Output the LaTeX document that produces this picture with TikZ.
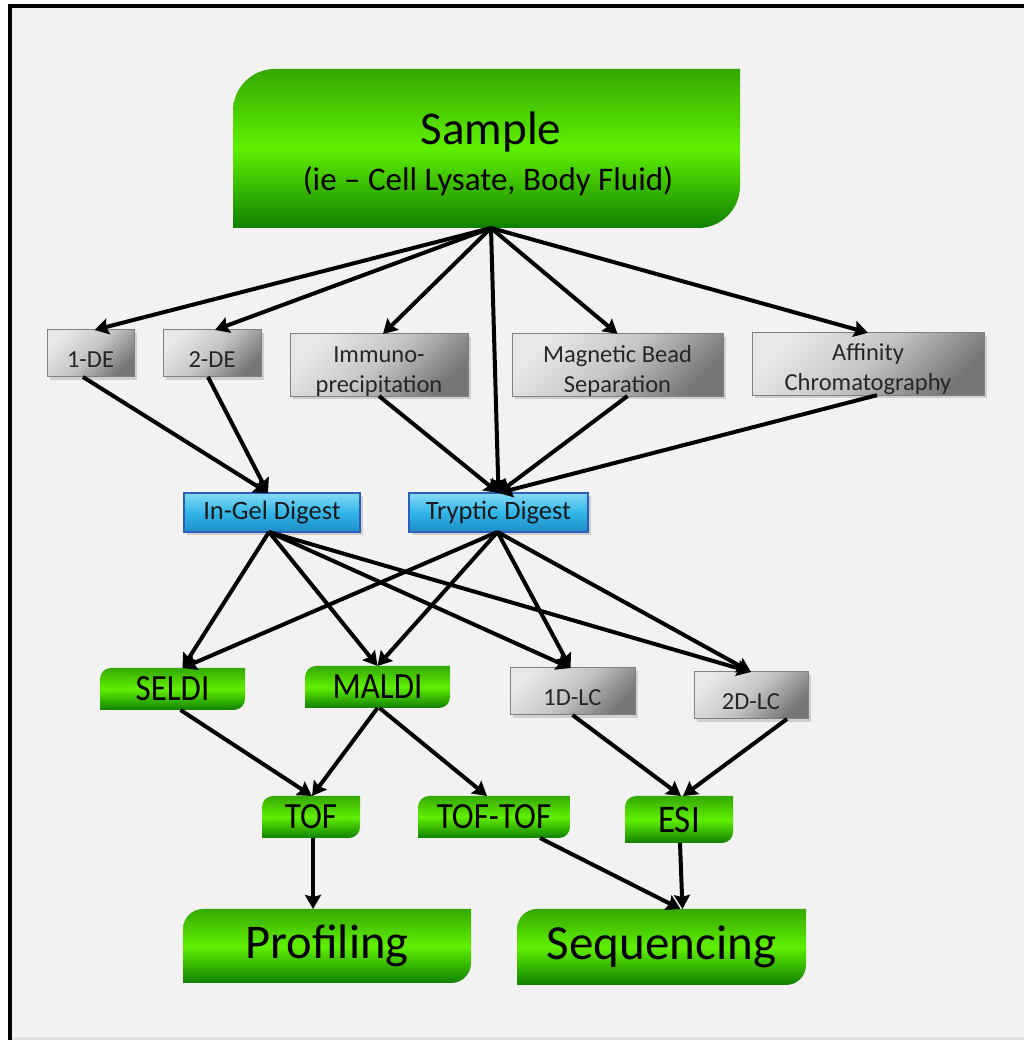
\documentclass[tikz,border=0pt]{standalone}
\usepackage{fontspec}
\setmainfont{Carlito}
\usetikzlibrary{arrows.meta,shadows,calc}
\pgfdeclarelayer{canvas}
\pgfdeclarelayer{bg}
\pgfsetlayers{canvas,bg,main}
\definecolor{gtop}{RGB}{52,168,0}
\definecolor{gmid}{RGB}{96,240,0}
\definecolor{gbot}{RGB}{16,128,0}
\definecolor{graylight}{RGB}{232,232,232}
\definecolor{graymid}{RGB}{196,196,196}
\definecolor{graydark}{RGB}{118,118,118}
\definecolor{grayborder}{RGB}{128,128,128}
\definecolor{btop}{RGB}{135,218,246}
\definecolor{bmid}{RGB}{50,182,232}
\definecolor{bbot}{RGB}{30,140,200}
\definecolor{bborder}{RGB}{45,95,185}
\definecolor{canvasgray}{RGB}{242,242,242}
\newcommand\fs[2]{\fontsize{#1}{#2}\selectfont}
\newcommand\sk{\rule{0pt}{1.15em}}
\newcommand\tall[1]{\scalebox{1}[1.12]{#1}}
\newcommand\boxnode[7]{\node[#2, minimum width={(#5)-(#3)}, minimum height={(#6)-(#4)}] (#1) at ({((#3)+(#5))/2},{1040-((#4)+(#6))/2}) {#7};}
\newcommand\gbg[2]{\shade[gshade] (#1.south west) -- ([yshift=-#2pt]#1.north west) arc[start angle=180,end angle=90,radius=#2pt] -- (#1.north east) -- ([yshift=#2pt]#1.south east) arc[start angle=0,end angle=-90,radius=#2pt] -- cycle;}
\tikzset{
  gshade/.style={top color=gtop, bottom color=gbot, middle color=gmid},
  gnode/.style={inner sep=0pt, outer sep=0pt, text=black, align=center},
  graynode/.style={inner sep=0pt, outer sep=0pt, align=center, text=black!85,
    left color=graylight, right color=graydark, middle color=graymid, shading angle=45,
    draw=grayborder, line width=1pt, font=\fs{24.5}{30},
    drop shadow={shadow xshift=3pt, shadow yshift=-3pt, opacity=0.3}},
  bluenode/.style={inner sep=0pt, outer sep=0pt, align=center, text=black!90,
    top color=btop, bottom color=bbot, middle color=bmid,
    draw=bborder, line width=1.5pt, font=\fs{26.5}{30},
    drop shadow={shadow xshift=3pt, shadow yshift=-3pt, opacity=0.3}},
  arr/.style={line width=4pt, -{Stealth[length=14pt,width=16pt,inset=2pt]}},
}
\begin{document}
\begin{tikzpicture}[x=1pt,y=1pt]
\useasboundingbox (0,0) rectangle (1024,1040);
\begin{pgfonlayer}{canvas}
  \fill[white] (0,0) rectangle (1024,1040);
  \fill[canvasgray] (12,0) rectangle (1024,1032);
  \fill[black!12] (12,0) rectangle (1024,3);
  \fill[black] (8,1032) rectangle (1024,1036);
  \fill[black] (8,0) rectangle (12,1036);
\end{pgfonlayer}

% green boxes
\boxnode{sample}{gnode}{233}{69}{740}{228}{}
\node[font=\fs{47}{52}, anchor=base] (sampletitle) at (491,1040-145) {Sample};
\node[font=\fs{33}{36}, anchor=base] (samplesub) at (488,1040-191) {(ie – Cell Lysate, Body Fluid)};
\boxnode{seldi}{gnode,font=\fs{33}{36}}{100}{668}{245}{710}{\tall{SELDI}}
\boxnode{maldi}{gnode,font=\fs{33}{36}}{305}{666}{450}{708}{\tall{MALDI}}
\boxnode{tof}{gnode,font=\fs{33}{36}}{262}{796}{360}{838}{\tall{TOF}}
\boxnode{toftof}{gnode,font=\fs{33}{36}}{418}{796}{570}{838}{\tall{TOF-TOF}}
\boxnode{esi}{gnode,font=\fs{35}{38}}{625}{796}{733}{843}{\tall{ESI}}
\boxnode{profiling}{gnode,font=\fs{48.5}{52}}{183}{909}{471}{983}{Profiling}
\boxnode{sequencing}{gnode,font=\fs{49}{52}}{517}{909}{806}{985}{Sequencing}
\begin{pgfonlayer}{bg}
  \gbg{sample}{42}
  \gbg{seldi}{11}
  \gbg{maldi}{11}
  \gbg{tof}{11}
  \gbg{toftof}{11}
  \gbg{esi}{11}
  \gbg{profiling}{20}
  \gbg{sequencing}{20}
\end{pgfonlayer}

% gray boxes
\boxnode{de1}{graynode}{47}{330}{134}{377}{\sk 1-DE}
\boxnode{de2}{graynode}{163}{330}{261}{377}{\sk 2-DE}
\boxnode{immuno}{graynode}{290}{335}{468}{395}{\sk Immuno-\\precipitation}
\boxnode{magnetic}{graynode}{512}{334}{723}{396}{\sk Magnetic Bead\\Separation}
\boxnode{affinity}{graynode}{752}{333}{984}{395}{\sk Affinity\\Chromatography}
\boxnode{lc1}{graynode}{510}{668}{635}{715}{\sk 1D-LC}
\boxnode{lc2}{graynode}{694}{672}{808}{719}{\sk 2D-LC}

% blue boxes
\boxnode{ingel}{bluenode}{184}{493}{360}{532}{In-Gel Digest}
\boxnode{tryptic}{bluenode}{409}{493}{588}{532}{Tryptic Digest}

% arrows from sample
\draw[arr] ([xshift=4.5pt]sample.south) -- ([xshift=4pt]de1.north);
\draw[arr] ([xshift=4.5pt]sample.south) -- ([xshift=3pt]de2.north);
\draw[arr] ([xshift=4.5pt]sample.south) -- ([xshift=4pt]immuno.north);
\draw[arr] ([xshift=4.5pt]sample.south) -- (tryptic.north);
\draw[arr] ([xshift=4.5pt]sample.south) -- (magnetic.north);
\draw[arr] ([xshift=4.5pt]sample.south) -- (affinity.north);

% to digests
\draw[arr] ([xshift=-7.5pt]de1.south) -- ([xshift=-4pt]ingel.north);
\draw[arr] ([xshift=-4pt]de2.south) -- ([xshift=-4pt]ingel.north);
\draw[arr] (immuno.south) -- (tryptic.north);
\draw[arr] ([xshift=10pt]magnetic.south) -- (tryptic.north);
\draw[arr] ([xshift=9pt]affinity.south) -- (tryptic.north);

% digests to ionisation / LC
\draw[arr] ([xshift=-3pt]ingel.south) -- ([xshift=10pt]seldi.north);
\draw[arr] ([xshift=-3pt]ingel.south) -- (maldi.north);
\draw[arr] ([xshift=-3pt]ingel.south) -- ([xshift=-2pt]lc1.north);
\draw[arr] ([xshift=-3pt]ingel.south) -- (lc2.north);
\draw[arr] ([xshift=-1pt]tryptic.south) -- ([xshift=10pt]seldi.north);
\draw[arr] ([xshift=-1pt]tryptic.south) -- (maldi.north);
\draw[arr] ([xshift=-1pt]tryptic.south) -- ([xshift=-2pt]lc1.north);
\draw[arr] ([xshift=-1pt]tryptic.south) -- (lc2.north);

% to analysers
\draw[arr] ([xshift=8pt]seldi.south) -- ([xshift=1pt]tof.north);
\draw[arr] (maldi.south) -- ([xshift=1pt]tof.north);
\draw[arr] ([xshift=2pt]maldi.south) -- ([xshift=-7pt]toftof.north);
\draw[arr] (lc1.south) -- ([xshift=2pt]esi.north);
\draw[arr] ([xshift=36pt]lc2.south) -- ([xshift=4pt]esi.north);

% to outcomes
\draw[arr] ([xshift=2pt]tof.south) -- ([xshift=-14pt]profiling.north);
\draw[arr] ([xshift=46pt]toftof.south) -- ([xshift=19pt]sequencing.north);
\draw[arr] ([xshift=1pt]esi.south) -- ([xshift=21pt]sequencing.north);
\end{tikzpicture}
\end{document}
